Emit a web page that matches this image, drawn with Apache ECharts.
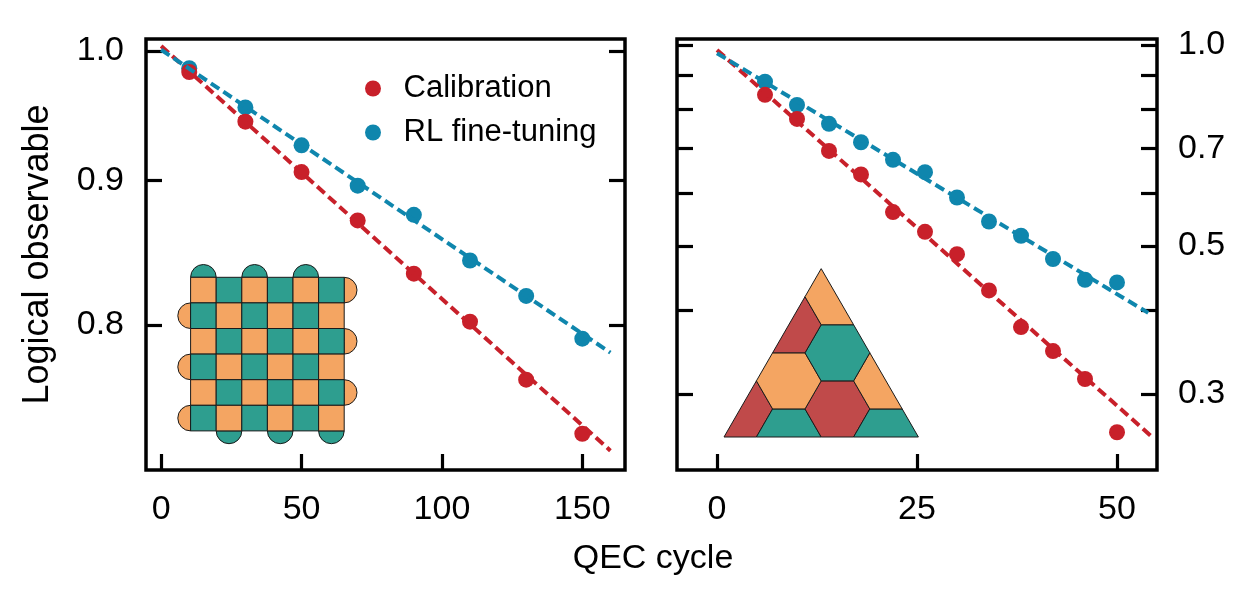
<!DOCTYPE html>
<html>
<head>
<meta charset="utf-8">
<script src="https://cdn.jsdelivr.net/npm/echarts@6/dist/echarts.min.js"></script>
<style>
  html, body { margin: 0; background: #fff; }
  #chart { width: 1250px; height: 593px; }
</style>
</head>
<body>
<div id="chart"></div>
<script>
// left panel - square surface code
const cyclesLeft = [10, 30, 50, 70, 90, 110, 130, 150];
const calibLeft = [0.983, 0.944, 0.906, 0.871, 0.834, 0.802, 0.765, 0.732];
const rlLeft = [0.986, 0.955, 0.926, 0.896, 0.875, 0.843, 0.819, 0.791];
const calibFitLeft = [[0, 1.004], [160, 0.722]];
const rlFitLeft = [[0, 1.001], [160, 0.782]];

// right panel - triangular color code
const cyclesRight = [6, 10, 14, 18, 22, 26, 30, 34, 38, 42, 46, 50];
const calibRight = [0.842, 0.775, 0.694, 0.640, 0.562, 0.525, 0.486, 0.429, 0.378, 0.348, 0.316, 0.263];
const rlRight = [0.881, 0.813, 0.762, 0.715, 0.673, 0.645, 0.591, 0.544, 0.518, 0.478, 0.445, 0.441];
const calibFitRight = [[0, 0.983], [54.2, 0.26]];
const rlFitRight = [[0, 0.972], [53.9, 0.397]];

// ticks
const xTicksLeft = [0, 50, 100, 150];
const xTicksRight = [0, 25, 50];
const yTicksLeft = [0.8, 0.9, 1.0];
const yTicksRight = [0.3, 0.4, 0.5, 0.6, 0.7, 0.8, 0.9, 1.0];
const yLabelsRight = [0.3, 0.5, 0.7, 1.0];

const RED = '#c8202a';
const BLUE = '#0f86ad';
const FONT = "'Liberation Sans', Arial, sans-serif";

const pairs = (xs, ys) => xs.map((x, i) => [x, ys[i]]);

const chart = echarts.init(document.getElementById('chart'));

// shared axis bits
const noLine = { show: false, onZero: false };
const tickStyle = (vals) => ({
  inside: true, length: 16, customValues: vals,
  lineStyle: { color: '#000', width: 3.2 }
});
const labelStyle = (vals, margin, fmt) => ({
  customValues: vals, fontSize: 34, color: '#000', fontFamily: FONT, margin: margin,
  formatter: fmt
});
const fmt1 = v => Number(v).toFixed(1);

// --- inset 1: surface code patch (decoration) ---
const ORANGE = '#f4a562', TEAL = '#2e9e8f', BRICK = '#c04a4a', EDGE = '#1a1a1a';
function surfaceInset(gx, gy, cell) {
  const els = [];
  const r = cell / 2;
  const cap = (cx, cy, a0, a1, fill) => els.push({
    type: 'sector', shape: { cx: cx, cy: cy, r0: 0, r: r, startAngle: a0, endAngle: a1 },
    style: { fill: fill, stroke: EDGE, lineWidth: 1 }
  });
  for (let c = 0; c < 6; c += 2) cap(gx + (c + 0.5) * cell, gy, Math.PI, 2 * Math.PI, TEAL);
  for (let c = 1; c < 6; c += 2) cap(gx + (c + 0.5) * cell, gy + 6 * cell, 0, Math.PI, TEAL);
  for (let rr = 1; rr < 6; rr += 2) cap(gx, gy + (rr + 0.5) * cell, Math.PI / 2, 1.5 * Math.PI, ORANGE);
  for (let rr = 0; rr < 6; rr += 2) cap(gx + 6 * cell, gy + (rr + 0.5) * cell, -Math.PI / 2, Math.PI / 2, ORANGE);
  for (let rr = 0; rr < 6; rr++) {
    for (let c = 0; c < 6; c++) {
      els.push({
        type: 'rect', shape: { x: gx + c * cell, y: gy + rr * cell, width: cell, height: cell },
        style: { fill: (rr + c) % 2 === 0 ? ORANGE : TEAL, stroke: EDGE, lineWidth: 1 }
      });
    }
  }
  return els;
}

// --- inset 2: triangular color code (decoration) ---
// pieces in lattice units (u along base, v in half-hex heights)
const colorCodePieces = [
  [BRICK, [[0, 0], [1, 0], [1.5, 1], [1, 2]]],
  [TEAL, [[1, 0], [3, 0], [2.5, 1], [1.5, 1]]],
  [BRICK, [[3, 0], [4, 0], [4.5, 1], [4, 2], [3, 2], [2.5, 1]]],
  [TEAL, [[4, 0], [6, 0], [5.5, 1], [4.5, 1]]],
  [ORANGE, [[1.5, 1], [2.5, 1], [3, 2], [2.5, 3], [1.5, 3], [1, 2]]],
  [ORANGE, [[4.5, 1], [5.5, 1], [4.5, 3], [4, 2]]],
  [TEAL, [[3, 2], [4, 2], [4.5, 3], [4, 4], [3, 4], [2.5, 3]]],
  [BRICK, [[1.5, 3], [2.5, 3], [3, 4], [2.5, 5]]],
  [ORANGE, [[3, 4], [4, 4], [3, 6], [2.5, 5]]]
];
function colorInset(bx, by, a) {
  const h = a * Math.sqrt(3) / 2;
  const toPx = p => [bx + p[0] * a, by - p[1] * h];
  return colorCodePieces.map(([fill, pts]) => ({
    type: 'polygon', shape: { points: pts.map(toPx) },
    style: { fill: fill, stroke: EDGE, lineWidth: 1 }
  }));
}

const fitLine = (name, xi, yi, data, color) => ({
  name: name, type: 'line', xAxisIndex: xi, yAxisIndex: yi, data: data,
  symbol: 'none', silent: true, z: 5,
  lineStyle: { color: color, width: 4, type: [10, 5] }
});
const dots = (name, xi, yi, data, color) => ({
  name: name, type: 'scatter', xAxisIndex: xi, yAxisIndex: yi, data: data,
  symbolSize: 16, z: 4, itemStyle: { color: color, opacity: 1 }
});

const option = {
  animation: false,
  backgroundColor: '#fff',
  textStyle: { fontFamily: FONT },
  grid: [
    { left: 146, top: 39, width: 479, height: 431, show: true, borderColor: '#000', borderWidth: 3.5, backgroundColor: 'transparent' },
    { left: 677, top: 39, width: 480, height: 431, show: true, borderColor: '#000', borderWidth: 3.5, backgroundColor: 'transparent' }
  ],
  legend: {
    orient: 'vertical', left: 360, top: 68,
    icon: 'circle', itemWidth: 51, itemHeight: 16, itemGap: 13,
    textStyle: { fontSize: 31, color: '#000', fontFamily: FONT },
    data: ['Calibration', 'RL fine-tuning']
  },
  xAxis: [
    {
      gridIndex: 0, type: 'value', min: -5.4, max: 165.2,
      axisLine: noLine, splitLine: { show: false },
      axisTick: tickStyle(xTicksLeft), axisLabel: labelStyle(xTicksLeft, 23)
    },
    {
      gridIndex: 1, type: 'value', min: -5, max: 55,
      axisLine: noLine, splitLine: { show: false },
      axisTick: tickStyle(xTicksRight), axisLabel: labelStyle(xTicksRight, 23)
    }
  ],
  yAxis: [
    {
      gridIndex: 0, type: 'log', logBase: 10, min: 0.7107, max: 1.0098, position: 'left',
      axisLine: noLine, splitLine: { show: false },
      axisTick: tickStyle(yTicksLeft), axisLabel: labelStyle(yTicksLeft, 22, fmt1),
      name: 'Logical observable', nameLocation: 'middle', nameGap: 90,
      nameTextStyle: { fontSize: 36, color: '#000', fontFamily: FONT }
    },
    {
      gridIndex: 0, type: 'log', logBase: 10, min: 0.7107, max: 1.0098, position: 'right',
      axisLine: noLine, splitLine: { show: false },
      axisTick: tickStyle(yTicksLeft), axisLabel: { show: false }
    },
    {
      gridIndex: 1, type: 'log', logBase: 10, min: 0.2309, max: 1.0209, position: 'left',
      axisLine: noLine, splitLine: { show: false },
      axisTick: tickStyle(yTicksRight), axisLabel: { show: false }
    },
    {
      gridIndex: 1, type: 'log', logBase: 10, min: 0.2309, max: 1.0209, position: 'right',
      axisLine: noLine, splitLine: { show: false },
      axisTick: tickStyle(yTicksRight), axisLabel: labelStyle(yLabelsRight, 21, fmt1)
    }
  ],
  graphic: [
    { type: 'group', children: surfaceInset(190.6, 277.3, 25.6) },
    { type: 'group', children: colorInset(724, 437, 32.4) },
    {
      type: 'text', x: 653, y: 559,
      style: { text: 'QEC cycle', fill: '#000', font: '34px ' + FONT, textAlign: 'center', textVerticalAlign: 'middle' }
    }
  ],
  series: [
    fitLine('Calibration fit', 0, 0, calibFitLeft, RED),
    fitLine('RL fit', 0, 0, rlFitLeft, BLUE),
    fitLine('Calibration fit', 1, 2, calibFitRight, RED),
    fitLine('RL fit', 1, 2, rlFitRight, BLUE),
    dots('RL fine-tuning', 0, 0, pairs(cyclesLeft, rlLeft), BLUE),
    dots('Calibration', 0, 0, pairs(cyclesLeft, calibLeft), RED),
    dots('RL fine-tuning', 1, 2, pairs(cyclesRight, rlRight), BLUE),
    dots('Calibration', 1, 2, pairs(cyclesRight, calibRight), RED)
  ]
};

chart.setOption(option);
</script>
</body>
</html>
